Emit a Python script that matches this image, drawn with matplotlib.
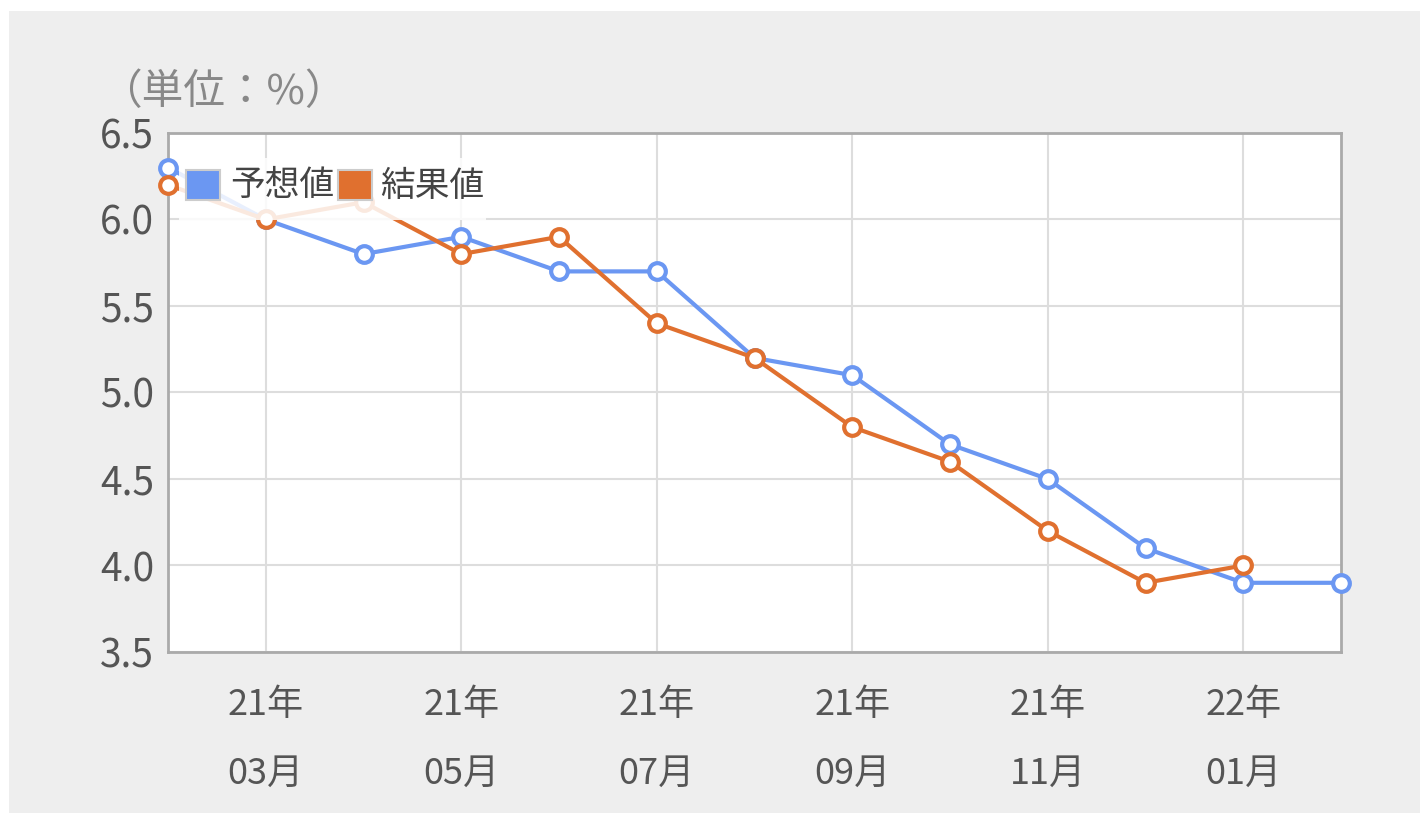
import matplotlib.pyplot as plt
from matplotlib.patches import Rectangle
import numpy as np

plt.rcParams['font.family'] = ['Noto Sans CJK JP', 'DejaVu Sans']

# データ（21年02月〜22年02月）
months = ['21年\n02月', '21年\n03月', '21年\n04月', '21年\n05月', '21年\n06月', '21年\n07月',
          '21年\n08月', '21年\n09月', '21年\n10月', '21年\n11月', '21年\n12月', '22年\n01月', '22年\n02月']
forecast = [6.3, 6.0, 5.8, 5.9, 5.7, 5.7, 5.2, 5.1, 4.7, 4.5, 4.1, 3.9, 3.9]
actual = [6.2, 6.0, 6.1, 5.8, 5.9, 5.4, 5.2, 4.8, 4.6, 4.2, 3.9, 4.0, np.nan]
yticks = [3.5, 4.0, 4.5, 5.0, 5.5, 6.0, 6.5]

blue = '#6b97f2'
orange = '#e0702f'

fig = plt.figure(figsize=(14.2, 8.13), dpi=100)
fig.patch.set_facecolor('white')
# 背景のグレーパネル
fig.patches.append(Rectangle((9 / 1420, 0), 1, 1 - 11 / 813, transform=fig.transFigure,
                             facecolor='#eeeeee', edgecolor='none', zorder=-10))

ax = fig.add_axes([168 / 1420, 1 - 652 / 813, (1341 - 168) / 1420, (652 - 133) / 813])
ax.set_facecolor('white')

x = np.arange(len(months))
ax.plot(x, forecast, color=blue, lw=3, marker='o', ms=12, mfc='white', mec=blue, mew=3,
        clip_on=False, zorder=3)
ax.plot(x, actual, color=orange, lw=3, marker='o', ms=12, mfc='white', mec=orange, mew=3,
        clip_on=False, zorder=3)

ax.set_xlim(0, len(months) - 1)
ax.set_ylim(3.5, 6.5)
ax.set_yticks(yticks)
ax.set_yticklabels([f'{v:.1f}' for v in yticks])

tick_pos = x[1:-1:2]
ax.set_xticks(tick_pos)
ax.set_xticklabels([months[i] for i in tick_pos], linespacing=2.2)

ax.grid(True, color='#dddddd', lw=1.5)
ax.set_axisbelow(True)
ax.tick_params(length=0, colors='#555555')
ax.tick_params(axis='y', labelsize=28, pad=10)
ax.tick_params(axis='x', labelsize=26, pad=25)
for sp in ax.spines.values():
    sp.set_color('#aaaaaa')
    sp.set_linewidth(2)

# 凡例（半透明の白い箱）
ax.add_patch(Rectangle((0.009, 0.832), 0.262, 0.12, transform=ax.transAxes,
                       facecolor='white', alpha=0.85, edgecolor='none', zorder=4))
for x0, xt, col, lab in [(0.0154, 0.053, blue, '予想値'), (0.145, 0.181, orange, '結果値')]:
    ax.add_patch(Rectangle((x0, 0.871), 0.029, 0.058, transform=ax.transAxes,
                           facecolor=col, edgecolor='#cccccc', lw=1.5, zorder=5))
    ax.text(xt, 0.898, lab, transform=ax.transAxes, fontsize=25, color='#444444',
            va='center', ha='left', zorder=5)

fig.text(100 / 1420, 1 - 92 / 813, '（単位：%）', fontsize=30, color='#888888',
         va='center', ha='left')

fig.savefig('out.png', dpi=100, facecolor=fig.get_facecolor())
